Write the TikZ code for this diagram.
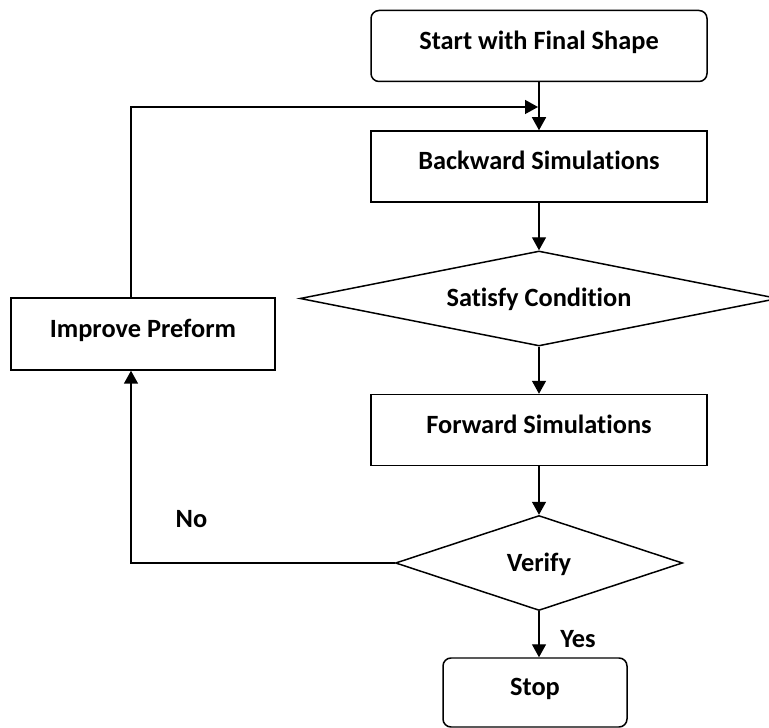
\documentclass[tikz,border=0pt]{standalone}
\usepackage{fontspec}
\setmainfont[Ligatures=NoCommon]{Carlito}
\usetikzlibrary{shapes.geometric,arrows.meta}

\begin{document}
\begin{tikzpicture}[font=\fontsize{15}{18}\selectfont\bfseries, line width=0.85pt,
  procbox/.style={draw, rectangle, minimum width=6.72cm, minimum height=1.42cm, text height=0.36cm, text depth=0.22cm},
  termbox/.style={procbox, rounded corners=0.16cm},
  condbox/.style={draw, diamond, inner sep=0pt, minimum height=1.9cm, text height=0.4cm, text depth=0.06cm},
  flow/.style={-{Triangle[length=0.26cm,width=0.28cm]}}]
  \useasboundingbox (0,0) rectangle (15.38,-14.56);

  % Main column
  \node[termbox] (start) at (10.78,-0.92) {Start with Final Shape};
  \node[procbox] (backward) at (10.78,-3.33) {Backward Simulations};
  \node[condbox, aspect=5, minimum width=9.56cm] (satisfy) at (10.78,-5.97) {Satisfy Condition};
  \node[procbox] (forward) at (10.78,-8.6) {Forward Simulations};
  \node[condbox, aspect=3, minimum width=5.74cm] (verify) at (10.78,-11.26) {Verify};
  \node[termbox, minimum width=3.68cm, minimum height=1.38cm] (stop) at (10.7,-13.85) {Stop};

  % Feedback loop
  \node[procbox, minimum width=5.28cm, minimum height=1.44cm] (improve) at (2.86,-6.68) {Improve Preform};
  \coordinate (join) at (10.76,-2.14);

  % Labels
  \node (no) at (3.83,-10.38) {No};
  \node (yes) at (11.56,-12.78) {Yes};

  % Arrows
  \draw[flow] (start) -- (backward);
  \draw[flow] (backward) -- (satisfy);
  \draw[flow] (satisfy) -- (forward);
  \draw[flow] (forward) -- (verify);
  \draw[flow] (verify.south) -- (verify.south |- stop.north);
  \draw[flow] (verify.west) -| ([xshift=-0.24cm]improve.south);
  \draw[flow] ([xshift=-0.24cm]improve.north) |- (join);
\end{tikzpicture}
\end{document}
